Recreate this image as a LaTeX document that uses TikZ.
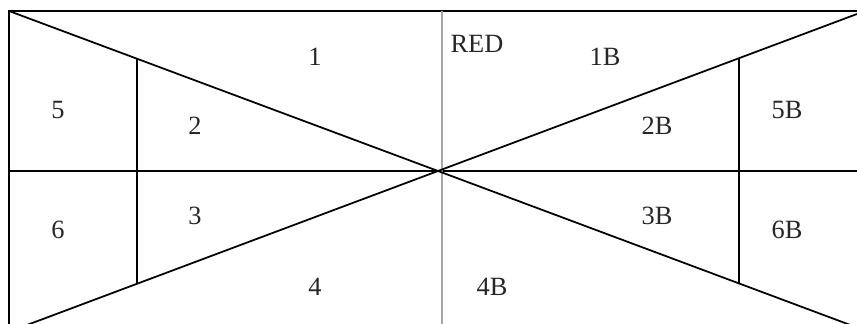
\documentclass[tikz,border=0pt]{standalone}
\usepackage{fontspec}
\setmainfont{Liberation Serif}
\usetikzlibrary{calc}

\begin{document}
\begin{tikzpicture}[
    font=\fontsize{15}{18}\selectfont,
    part/.style={line width=1pt, black},
    axis/.style={line width=0.8pt, gray!70},
    zone/.style={inner sep=0pt, text=black!85}
  ]
    \useasboundingbox (0,0) rectangle (17.14,6.48);

    % ─────────── corners and centre ────────────────────────────────────
    \coordinate (tl) at (0.18,6.26);
    \coordinate (tr) at (17.14,6.20);
    \coordinate (bl) at (0.18,-0.155);
    \coordinate (br) at (17.14,-0.07);
    \coordinate (c)  at (8.76,3.06);

    % ─────────── frame ─────────────────────────────────────────────────
    \draw[part] (17.14,6.26) -- (tl) -- (0.18,0);
    \draw[part] (0.18,3.06) -- (17.14,3.06);
    \draw[axis] (8.84,6.26) -- (8.84,0);

    % ─────────── diagonals ─────────────────────────────────────────────
    \draw[part] (tl) -- (c) -- (br);
    \draw[part] (bl) -- (c) -- (tr);

    % ─────────── side walls ────────────────────────────────────────────
    \draw[part] ($(tl)!0.2984!(c)$) -- ($(bl)!0.2984!(c)$);
    \draw[part] ($(c)!0.7184!(tr)$) -- ($(c)!0.7184!(br)$);

    % ─────────── zones ─────────────────────────────────────────────────
    \node[zone] (z1)   at (6.30,5.34)  {1};
    \node[zone] (zred) at (9.54,5.60)  {RED};
    \node[zone] (z1b)  at (12.10,5.34) {1B};
    \node[zone] (z5)   at (1.16,4.28)  {5};
    \node[zone] (z2)   at (3.90,3.96)  {2};
    \node[zone] (z2b)  at (13.14,3.96) {2B};
    \node[zone] (z5b)  at (15.74,4.28) {5B};
    \node[zone] (z6)   at (1.16,1.88)  {6};
    \node[zone] (z3)   at (3.90,2.16)  {3};
    \node[zone] (z3b)  at (13.14,2.16) {3B};
    \node[zone] (z6b)  at (15.74,1.88) {6B};
    \node[zone] (z4)   at (6.30,0.74)  {4};
    \node[zone] (z4b)  at (9.84,0.74)  {4B};
  \end{tikzpicture}
\end{document}
